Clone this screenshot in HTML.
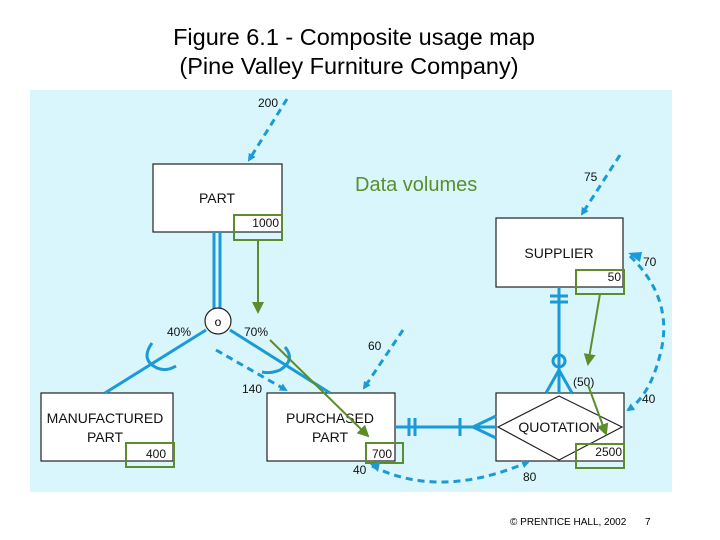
<!DOCTYPE html>
<html><head><style>body{margin:0;background:#fff;}svg{display:block}</style></head><body>
<svg width="720" height="540" xmlns="http://www.w3.org/2000/svg" font-family="Liberation Sans, sans-serif">
<defs>
<marker id="ab" markerWidth="8" markerHeight="8" refX="6" refY="4" orient="auto" markerUnits="userSpaceOnUse"><path d="M0,0 L8,4 L0,8 z" fill="#1a9ad6"/></marker>
<marker id="ag" markerWidth="12" markerHeight="12" refX="10" refY="6" orient="auto" markerUnits="userSpaceOnUse"><path d="M0,0 L12,6 L0,12 z" fill="#5c8d2a"/></marker>
</defs>
<text x="354" y="45" font-size="23.5" text-anchor="middle">Figure 6.1 - Composite usage map</text>
<text x="349" y="74" font-size="23.5" text-anchor="middle">(Pine Valley Furniture Company)</text>
<rect x="30" y="90" width="642" height="402" fill="#d9f6fc"/>
<g fill="#fff" stroke="#222" stroke-width="1.2">
<rect x="153" y="164" width="129" height="68"/>
<rect x="41" y="393" width="132" height="68"/>
<rect x="267" y="393" width="128" height="68"/>
<rect x="496" y="218" width="127" height="69"/>
<rect x="496" y="393" width="128" height="68"/>
<path d="M498,427 L559,396 L622,427 L559,460 Z"/>
</g>
<g font-size="14" text-anchor="middle" fill="#111">
<text x="217" y="203">PART</text>
<text x="105" y="423">MANUFACTURED</text><text x="105" y="442">PART</text>
<text x="330" y="423">PURCHASED</text><text x="330" y="442">PART</text>
<text x="559" y="258">SUPPLIER</text>
<text x="559" y="432">QUOTATION</text>
</g>
<g font-size="12" fill="#111" text-anchor="end">
<text x="279" y="227">1000</text><text x="166" y="458">400</text><text x="392" y="458">700</text>
<text x="621" y="281">50</text><text x="622" y="456">2500</text>
</g>
<g font-size="12" fill="#111">
<text x="258" y="107">200</text><text x="167" y="336">40%</text><text x="244" y="336">70%</text>
<text x="242" y="393">140</text><text x="368" y="350">60</text><text x="353" y="474">40</text>
<text x="584" y="181">75</text><text x="643" y="266">70</text><text x="642" y="403">40</text>
<text x="523" y="481">80</text><text x="573" y="386">(50)</text>
</g>
<g fill="none" stroke="#5c8d2a" stroke-width="2">
<rect x="234" y="215" width="48" height="25"/><rect x="126" y="443" width="48" height="24"/>
<rect x="366" y="443" width="37" height="20"/><rect x="576" y="270" width="48" height="24"/>
<rect x="576" y="444" width="48" height="24"/>
</g>
<g stroke="#1a9ad6" stroke-width="3" fill="none">
<line x1="214" y1="232" x2="214" y2="309"/><line x1="220" y1="232" x2="220" y2="309"/>
<line x1="206" y1="330" x2="105" y2="393"/><line x1="230" y1="330" x2="330" y2="393"/>
<path d="M152,343 Q140,360 157,368 Q166,372 176,366"/>
<path d="M285,347 Q296,360 280,370 Q270,374 262,372"/>
<line x1="559" y1="287" x2="559" y2="393"/>
<line x1="550" y1="296" x2="568" y2="296"/><line x1="550" y1="302" x2="568" y2="302"/>
<path d="M559,370 L546,393 M559,370 L572,393"/>
<line x1="395" y1="427" x2="496" y2="427"/>
<line x1="409" y1="418" x2="409" y2="436"/><line x1="415" y1="418" x2="415" y2="436"/>
<line x1="460" y1="418" x2="460" y2="436"/>
<path d="M496,416 L473,427 L496,438"/>
</g>
<circle cx="218" cy="321" r="13" fill="#fff" stroke="#222" stroke-width="1.2"/>
<text x="218" y="326" font-size="12" text-anchor="middle">o</text>
<circle cx="559" cy="361" r="6" fill="none" stroke="#1a9ad6" stroke-width="3"/>
<g stroke="#1a9ad6" stroke-width="3" fill="none" stroke-dasharray="7,5" marker-end="url(#ab)">
<line x1="287" y1="99" x2="249" y2="160"/>
<line x1="216" y1="350" x2="286" y2="390"/>
<line x1="403" y1="330" x2="364" y2="388"/>
<line x1="620" y1="155" x2="582" y2="214"/>
<path d="M630,256 Q675,300 660,355 Q650,395 628,410"/>
<path d="M372,466 Q440,500 528,462"/>
</g>
<path d="M640,262 L628,253 L642,252" fill="#1a9ad6"/>
<path d="M380,462 L370,464 L378,472 Z" fill="#1a9ad6"/>
<g stroke="#5c8d2a" stroke-width="2" marker-end="url(#ag)">
<line x1="258" y1="240" x2="258" y2="312"/>
<line x1="270" y1="340" x2="368" y2="436"/>
<line x1="600" y1="294" x2="588" y2="364"/>
<line x1="588" y1="385" x2="606" y2="434"/>
</g>
<text x="355" y="191" font-size="20" fill="#5c8d2a">Data volumes</text>
<text x="510" y="525" font-size="10">© PRENTICE HALL, 2002</text>
<text x="645" y="525" font-size="10">7</text>
</svg>
</body></html>
